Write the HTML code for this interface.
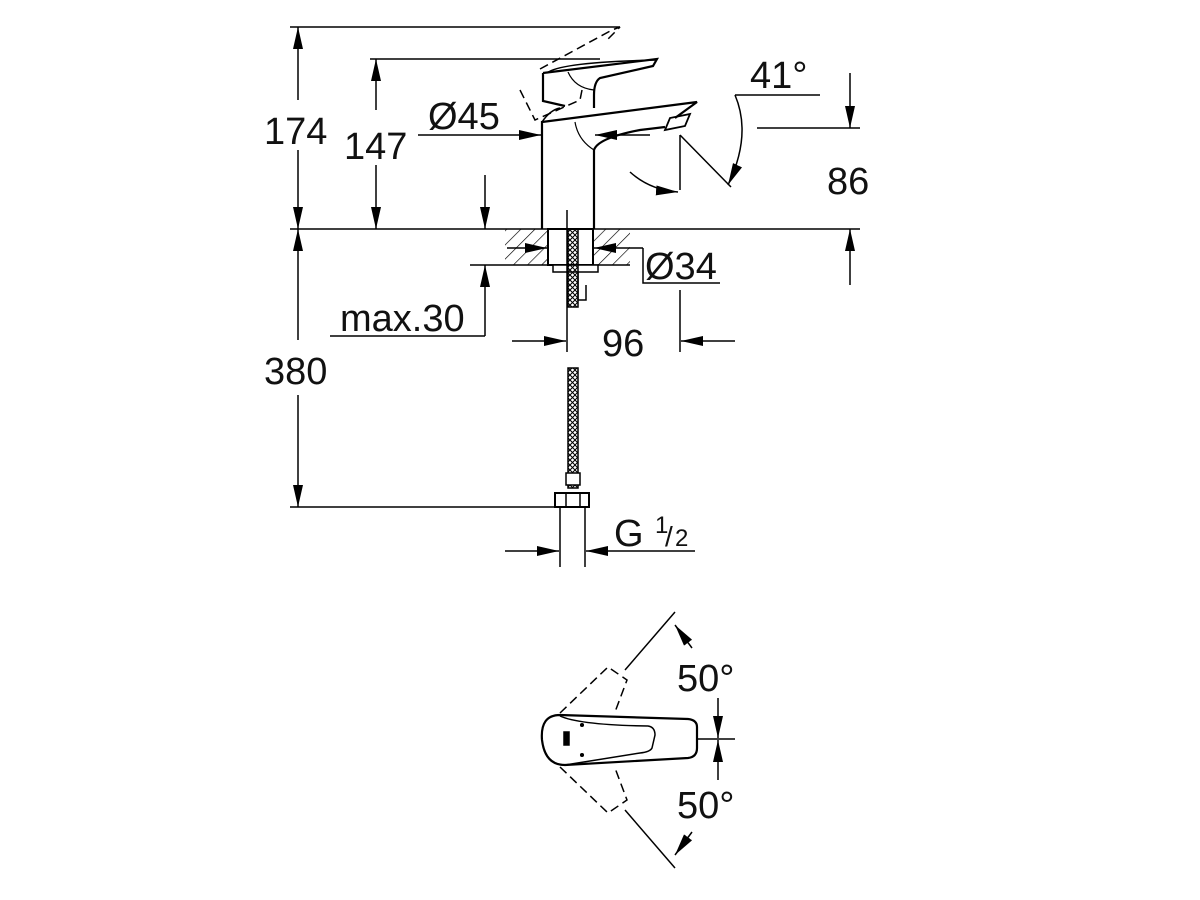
<!DOCTYPE html>
<html><head><style>body{margin:0;background:#fff}svg{display:block}text{font-family:"Liberation Sans",sans-serif;fill:#111}</style></head><body>
<svg width="1200" height="900" viewBox="0 0 1200 900" xmlns="http://www.w3.org/2000/svg">
<defs>
<marker id="a" viewBox="0 0 22 10" refX="22" refY="5" markerWidth="22" markerHeight="10" markerUnits="userSpaceOnUse" orient="auto"><path d="M0,0L22,5L0,10z" fill="#000"/></marker>
<pattern id="h" width="10" height="10" patternUnits="userSpaceOnUse" patternTransform="rotate(45)"><line x1="0" y1="0" x2="0" y2="10" stroke="#000" stroke-width="1.3"/></pattern>
<pattern id="x" width="5" height="5" patternUnits="userSpaceOnUse"><path d="M0,0L5,5M5,0L0,5" stroke="#000" stroke-width="1"/></pattern>
</defs>
<g stroke="#000" stroke-width="1.5" fill="none">
<line x1="290" y1="27" x2="620" y2="27"/>
<line x1="370" y1="59" x2="600" y2="59"/>
<line x1="290" y1="229" x2="860" y2="229"/>
<line x1="290" y1="507" x2="560" y2="507"/>
<line x1="298" y1="100" x2="298" y2="27" marker-end="url(#a)"/>
<line x1="298" y1="150" x2="298" y2="229" marker-end="url(#a)"/>
<line x1="376" y1="110" x2="376" y2="59" marker-end="url(#a)"/>
<line x1="376" y1="165" x2="376" y2="229" marker-end="url(#a)"/>
<line x1="298" y1="340" x2="298" y2="229" marker-end="url(#a)"/>
<line x1="298" y1="395" x2="298" y2="507" marker-end="url(#a)"/>
<line x1="418" y1="135" x2="541" y2="135" marker-end="url(#a)"/>
<line x1="650" y1="135" x2="595" y2="135" marker-end="url(#a)"/>
<line x1="757" y1="128" x2="860" y2="128"/>
<line x1="850" y1="73" x2="850" y2="128" marker-end="url(#a)"/>
<line x1="850" y1="285" x2="850" y2="229" marker-end="url(#a)"/>
<path d="M735,95 Q752,135 728,185" marker-end="url(#a)"/>
<line x1="735" y1="95" x2="820" y2="95"/>
<line x1="680" y1="135" x2="731" y2="187"/>
<line x1="680" y1="135" x2="680" y2="190"/>
<path d="M630,172 Q650,190 678,192" marker-end="url(#a)"/>
<path d="M542,229 V122 L697,102 L675,118 M594,229 V150 Q598,138 640,130 L665,127" stroke-width="2.2"/>
<path d="M542,122 Q550,110 560,108" stroke-width="1.5"/>
<path d="M665,130 l5,-12 l20,-4 l-5,12 z" stroke-width="1.8"/>
<path d="M575,122 Q578,140 594,150" stroke-width="1.2"/>
<path d="M543,73 L657,59 L653,66 L600,78 Q594,82 594,95 V108 M543,73 V101 L565,106" stroke-width="2.2"/>
<path d="M547,73 Q560,62 657,60" stroke-width="1.5"/>
<path d="M568,72 Q575,88 594,90" stroke-width="1.2"/>
<path d="M520,90 L535,120 L580,100 L583,85 M540,69 L612,30 L620,27 L607,40" stroke-dasharray="9,5"/>
<rect x="505" y="229" width="125" height="36" fill="url(#h)" stroke="none"/>
<line x1="505" y1="265" x2="630" y2="265"/>
<rect x="548" y="229" width="45" height="36" fill="#fff" stroke-width="2"/>
<rect x="553" y="265" width="45" height="7" fill="#fff"/>
<rect x="568" y="229" width="10" height="78" fill="url(#x)" stroke-width="1.5"/>
<path d="M578,272 V300 H586 V285"/>
<line x1="507" y1="248" x2="547" y2="248" marker-end="url(#a)"/>
<line x1="643" y1="248" x2="594" y2="248" marker-end="url(#a)"/>
<path d="M643,248 V283 H720"/>
<line x1="330" y1="336" x2="485" y2="336"/>
<line x1="485" y1="336" x2="485" y2="265" marker-end="url(#a)"/>
<line x1="485" y1="175" x2="485" y2="229" marker-end="url(#a)"/>
<line x1="470" y1="265" x2="505" y2="265"/>
<line x1="567" y1="210" x2="567" y2="352"/>
<line x1="680" y1="290" x2="680" y2="352"/>
<line x1="512" y1="341" x2="566" y2="341" marker-end="url(#a)"/>
<line x1="735" y1="341" x2="681" y2="341" marker-end="url(#a)"/>
<rect x="568" y="368" width="10" height="120" fill="url(#x)"/>
<rect x="566" y="473" width="14" height="12" fill="#fff"/>
<rect x="555" y="493" width="34" height="14" fill="#fff" stroke-width="2"/>
<line x1="566" y1="493" x2="566" y2="507"/><line x1="580" y1="493" x2="580" y2="507"/>
<line x1="560" y1="507" x2="560" y2="567"/>
<line x1="585" y1="507" x2="585" y2="567"/>
<line x1="505" y1="551" x2="559" y2="551" marker-end="url(#a)"/>
<line x1="695" y1="551" x2="586" y2="551" marker-end="url(#a)"/>
<path d="M560,715 Q540,715 542,740 Q545,765 565,765 L688,758 Q697,757 697,748 V727 Q697,720 688,719 Z" stroke-width="2.2"/>
<path d="M560,716 Q580,725 648,726 Q655,727 655,735 L652,748 Q650,752 640,753 L565,765" stroke-width="1.5"/>
<rect x="564" y="732" width="5" height="13" fill="#000"/>
<circle cx="582" cy="725" r="1.3" fill="#000"/><circle cx="582" cy="755" r="1.3" fill="#000"/>
<path d="M560,713 L608,667 L627,680 L615,712 M560,767 L608,813 L627,800 L615,768" stroke-dasharray="9,5"/>
<line x1="625" y1="670" x2="675" y2="612"/>
<line x1="625" y1="810" x2="675" y2="868"/>
<line x1="697" y1="739" x2="735" y2="739"/>
<line x1="692" y1="648" x2="675" y2="625" marker-end="url(#a)"/>
<line x1="692" y1="832" x2="675" y2="855" marker-end="url(#a)"/>
<line x1="718" y1="698" x2="718" y2="738" marker-end="url(#a)"/>
<line x1="718" y1="780" x2="718" y2="740" marker-end="url(#a)"/>
</g>
<g font-size="38">
<text x="264" y="144">174</text>
<text x="344" y="159">147</text>
<text x="428" y="129">Ø45</text>
<text x="750" y="88">41°</text>
<text x="827" y="194">86</text>
<text x="645" y="279">Ø34</text>
<text x="340" y="331">max.30</text>
<text x="602" y="356">96</text>
<text x="264" y="384">380</text>
<text x="614" y="546">G</text>
<text x="655" y="533" font-size="24">1</text>
<text x="665" y="546" font-size="28">/</text>
<text x="675" y="546" font-size="24">2</text>
<text x="677" y="691">50°</text>
<text x="677" y="818">50°</text>
</g>
</svg>
</body></html>
